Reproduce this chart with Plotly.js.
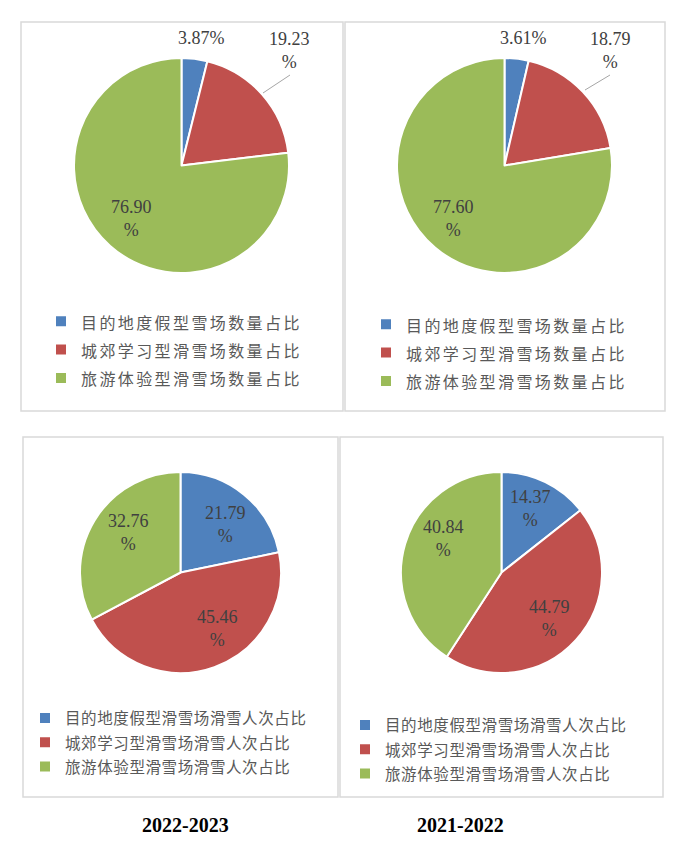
<!DOCTYPE html>
<html>
<head>
<meta charset="utf-8">
<script src="https://cdn.plot.ly/plotly-3.0.1.min.js"></script>
<style>
  html, body { margin: 0; padding: 0; background: #ffffff; }
  #chart { width: 700px; height: 847px; }
</style>
</head>
<body>
<div id="chart"></div>
<script>
// ---------------- data ----------------
const countCategories = ['目的地度假型雪场数量占比', '城郊学习型滑雪场数量占比', '旅游体验型滑雪场数量占比'];
const visitCategories = ['目的地度假型滑雪场滑雪人次占比', '城郊学习型滑雪场滑雪人次占比', '旅游体验型滑雪场滑雪人次占比'];
const resortCount2023 = [3.87, 19.23, 76.90];
const resortCount2022 = [3.61, 18.79, 77.60];
const skierVisits2023 = [21.79, 45.46, 32.76];
const skierVisits2022 = [14.37, 44.79, 40.84];
const seasonLabels = ['2022-2023', '2021-2022'];
const sliceColors = ['#4F81BD', '#C0504D', '#9BBB59'];

// ---------------- layout helpers ----------------
const W = 700, H = 847;
const px = x => x / W;
const py = y => 1 - y / H;

// each chart: pie box (pixels), legend placement, label placement per slice
const charts = [
  { values: resortCount2023, cats: countCategories, box: [74, 58, 289, 273], legend: 'legend', lx: 41, ly: 302, lfont: 19.5, tfont: 16, ls: 2.4,
    labels: [ {x: 201, y: 38, wrap: false}, {x: 289, y: 50, wrap: true}, {x: 131, y: 218, wrap: true} ],
    leader: [263, 93, 290, 75], frame: [21, 22, 343, 411] },
  { values: resortCount2022, cats: countCategories, box: [397, 58, 612, 273], legend: 'legend2', lx: 366, ly: 305, lfont: 19.5, tfont: 16, ls: 2.4,
    labels: [ {x: 523, y: 38, wrap: false}, {x: 610, y: 50, wrap: true}, {x: 453, y: 218, wrap: true} ],
    leader: [585, 90, 610, 75], frame: [345, 22, 665, 411] },
  { values: skierVisits2023, cats: visitCategories, box: [80, 472, 281, 673], legend: 'legend3', lx: 25, ly: 701, lfont: 16.3, tfont: 15.5, ls: 0.6,
    labels: [ {x: 225, y: 524, wrap: true}, {x: 217, y: 628, wrap: true}, {x: 128, y: 532, wrap: true} ],
    leader: null, frame: [23, 437, 338, 797] },
  { values: skierVisits2022, cats: visitCategories, box: [401, 472, 602, 673], legend: 'legend4', lx: 345, ly: 708, lfont: 16.3, tfont: 15.5, ls: 0.6,
    labels: [ {x: 530, y: 508, wrap: true}, {x: 549, y: 618, wrap: true}, {x: 443, y: 538, wrap: true} ],
    leader: null, frame: [340, 437, 663, 797] }
];

const traces = [];
const annotations = [];
const shapes = [];
const layout = {
  width: W, height: H,
  margin: {l: 0, r: 0, t: 0, b: 0},
  paper_bgcolor: '#ffffff',
  plot_bgcolor: '#ffffff',
  showlegend: true,
  xaxis: {visible: false}, yaxis: {visible: false},
  annotations: annotations,
  shapes: shapes
};

charts.forEach((c, k) => {
  traces.push({
    type: 'pie',
    labels: c.cats.map(t => '<span style="font-size:' + c.tfont + 'px;letter-spacing:' + c.ls + 'px">' + t + '</span>'),
    values: c.values,
    sort: false,
    direction: 'clockwise',
    rotation: 0,
    textinfo: 'none',
    hoverinfo: 'none',
    marker: {colors: sliceColors, line: {color: '#ffffff', width: 2}},
    domain: {x: [px(c.box[0]), px(c.box[2])], y: [py(c.box[3]), py(c.box[1])]},
    legend: c.legend,
    legendgroup: 'chart' + k,
    showlegend: true
  });
  layout[c.legend] = {
    x: px(c.lx), y: py(c.ly), xanchor: 'left', yanchor: 'top',
    bgcolor: 'rgba(0,0,0,0)', borderwidth: 0, visible: true,
    font: {family: 'Noto Sans CJK SC, sans-serif', size: c.lfont, color: '#595959'},
    itemclick: false, itemdoubleclick: false
  };
  c.values.forEach((v, i) => {
    const L = c.labels[i];
    annotations.push({
      xref: 'paper', yref: 'paper', x: px(L.x), y: py(L.y),
      xanchor: 'center', yanchor: 'middle', showarrow: false,
      text: v.toFixed(2) + (L.wrap ? '<br>%' : '%'),
      font: {family: 'Liberation Serif, Times New Roman, serif', size: 18, color: '#404040'}
    });
  });
  if (c.leader) {
    shapes.push({type: 'line', xref: 'paper', yref: 'paper',
      x0: px(c.leader[0]), y0: py(c.leader[1]), x1: px(c.leader[2]), y1: py(c.leader[3]),
      line: {color: '#A6A6A6', width: 1}});
  }
  shapes.push({type: 'rect', xref: 'paper', yref: 'paper',
    x0: px(c.frame[0]), y0: py(c.frame[3]), x1: px(c.frame[2]), y1: py(c.frame[1]),
    line: {color: '#D9D9D9', width: 1.5}, fillcolor: 'rgba(0,0,0,0)', layer: 'below'});
});

// season captions
[185, 460].forEach((x, i) => {
  annotations.push({
    xref: 'paper', yref: 'paper', x: px(x), y: py(825),
    xanchor: 'center', yanchor: 'middle', showarrow: false,
    text: '<b>' + seasonLabels[i] + '</b>',
    font: {family: 'Liberation Serif, Times New Roman, serif', size: 20, color: '#000000'}
  });
});

Plotly.newPlot('chart', traces, layout, {staticPlot: true, displayModeBar: false});
</script>
</body>
</html>
